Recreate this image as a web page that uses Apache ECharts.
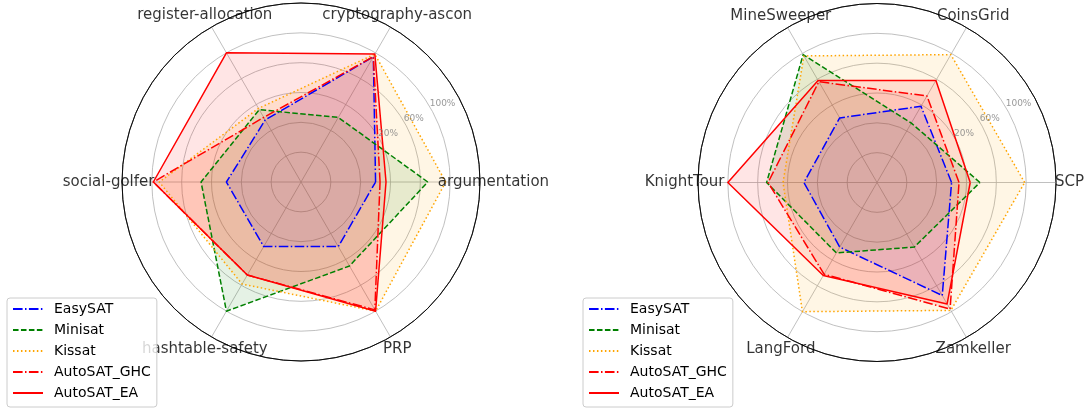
<!DOCTYPE html>
<html><head><meta charset="utf-8">
<script src="https://cdn.jsdelivr.net/npm/echarts@6/dist/echarts.min.js"></script>
<style>html,body{margin:0;padding:0;background:#fff}#c{width:1086px;height:408px}</style>
</head><body><div id="c"></div>
<script>
// ---------- data (radial units: 1.0 = the "100%" ring, outer circle = 1.2) ----------
const solvers = ['EasySAT', 'Minisat', 'Kissat', 'AutoSAT_GHC', 'AutoSAT_EA'];

const leftCategories = ['argumentation', 'cryptography-ascon', 'register-allocation', 'social-golfer', 'hashtable-safety', 'PRP'];
const leftEasySAT    = [0.50, 0.97, 0.48, 0.50, 0.50, 0.50];
const leftMinisat    = [0.85, 0.50, 0.56, 0.67, 1.00, 0.65];
const leftKissat     = [0.97, 0.99, 0.57, 0.95, 0.79, 1.00];
const leftGHC        = [0.53, 0.97, 0.50, 0.99, 0.72, 0.99];
const leftEA         = [0.57, 0.99, 1.00, 0.99, 0.72, 1.00];

const rightCategories = ['SCP', 'CoinsGrid', 'MineSweeper', 'KnightTour', 'LangFord', 'Zamkeller'];
const rightEasySAT    = [0.50, 0.59, 0.50, 0.49, 0.50, 0.875];
const rightMinisat    = [0.69, 0.46, 0.99, 0.74, 0.545, 0.50];
const rightKissat     = [0.99, 0.99, 0.98, 0.63, 1.00, 0.99];
const rightGHC        = [0.55, 0.67, 0.78, 0.73, 0.71, 0.98];
const rightEA         = [0.625, 0.79, 0.79, 1.00, 0.72, 0.94];

const radialTickValues = [0.6, 0.8, 1.0];
const radialTickLabels = ['20%', '60%', '100%'];

// ---------- styles ----------
const FONT = 'DejaVu Sans';
const styleOf = {
  EasySAT:     { color: '#0000ff', type: [9.6, 2.4, 1.5, 2.4] },
  Minisat:     { color: '#008000', type: [5.55, 2.4] },
  Kissat:      { color: '#ffa500', type: [1.5, 2.475] },
  AutoSAT_GHC: { color: '#ff0000', type: [9.6, 2.4, 1.5, 2.4] },
  AutoSAT_EA:  { color: '#ff0000', type: 'solid' }
};

function closedPoints(vals) {
  const step = 360 / vals.length;
  const pts = vals.map((v, i) => [v, i * step]);
  pts.push([vals[0], 360]);
  return pts;
}

// fills first (below), then outlines (above), as in the reference
function radarSeries(polarIndex, valuesList) {
  const fills = solvers.map((name, k) => ({
    type: 'line', name: name + ' (fill)', coordinateSystem: 'polar', polarIndex: polarIndex,
    data: closedPoints(valuesList[k]),
    symbol: 'none', showSymbol: false, silent: true, clip: false,
    lineStyle: { width: 0, opacity: 0 },
    areaStyle: { color: styleOf[name].color, opacity: 0.1 },
    z: 1
  }));
  const lines = solvers.map((name, k) => ({
    type: 'line', name: name, coordinateSystem: 'polar', polarIndex: polarIndex,
    data: closedPoints(valuesList[k]),
    symbol: 'none', showSymbol: false, silent: true, clip: false,
    lineStyle: { color: styleOf[name].color, width: 1.5, type: styleOf[name].type, cap: 'butt', join: 'round' },
    itemStyle: { color: styleOf[name].color },
    z: 2
  }));
  return fills.concat(lines);
}

function categoryLabelSeries(polarIndex, cats) {
  const step = 360 / cats.length;
  return {
    type: 'scatter', coordinateSystem: 'polar', polarIndex: polarIndex, silent: true, clip: false,
    data: cats.map((c, i) => ({ value: [1.29, i * step], name: c })),
    symbolSize: 1, itemStyle: { color: 'rgba(0,0,0,0)' },
    label: { show: true, position: 'inside', formatter: '{b}', fontFamily: FONT, fontSize: 15,
             color: '#000', textBorderWidth: 0 },
    z: 3
  };
}

function radialLabelSeries(polarIndex) {
  return {
    type: 'scatter', coordinateSystem: 'polar', polarIndex: polarIndex, silent: true, clip: false,
    data: radialTickValues.map((v, i) => ({ value: [v, 30], name: radialTickLabels[i] })),
    symbolSize: 1, itemStyle: { color: 'rgba(0,0,0,0)' },
    label: { show: true, position: 'insideBottomLeft', distance: 0, formatter: '{b}', fontFamily: FONT,
             fontSize: 9, color: '#808080', textBorderWidth: 0 },
    z: 3
  };
}

function angleAxis(polarIndex) {
  return {
    polarIndex: polarIndex, type: 'value', min: 0, max: 360, interval: 60, startAngle: 0, clockwise: false,
    axisLine: { show: true, lineStyle: { color: '#000', width: 0.8 } },
    axisTick: { show: false }, axisLabel: { show: false },
    splitLine: { show: true, lineStyle: { color: '#b0b0b0', width: 0.8 } }
  };
}
function radiusAxis(polarIndex) {
  return {
    polarIndex: polarIndex, type: 'value', min: 0, max: 1.2, interval: 0.2,
    axisLine: { show: false }, axisTick: { show: false }, axisLabel: { show: false },
    splitLine: { show: true, lineStyle: { width: 0.8,
      color: ['#b0b0b0', '#b0b0b0', '#b0b0b0', '#b0b0b0', '#b0b0b0', '#b0b0b0', '#000000'] } }
  };
}
function legendAt(left) {
  return {
    data: solvers, orient: 'vertical', left: left, top: 298,
    itemWidth: 30, itemHeight: 14, itemGap: 7, padding: [4, 6, 7, 5],
    backgroundColor: 'rgba(255,255,255,0.8)', borderColor: '#cccccc', borderWidth: 1, borderRadius: 3,
    selectedMode: false,
    itemStyle: { color: 'rgba(0,0,0,0)', borderWidth: 0, opacity: 0 },
    textStyle: { fontFamily: FONT, fontSize: 14, color: '#000', padding: [0, 0, 0, 6] }
  };
}

const chart = echarts.init(document.getElementById('c'), null, { renderer: 'canvas' });
chart.setOption({
  animation: false,
  backgroundColor: '#ffffff',
  textStyle: { fontFamily: FONT },
  polar: [
    { center: [301, 182], radius: 179 },
    { center: [877, 182.5], radius: 179 }
  ],
  angleAxis: [angleAxis(0), angleAxis(1)],
  radiusAxis: [radiusAxis(0), radiusAxis(1)],
  legend: [legendAt(7), legendAt(583)],
  series: [].concat(
    radarSeries(0, [leftEasySAT, leftMinisat, leftKissat, leftGHC, leftEA]),
    radarSeries(1, [rightEasySAT, rightMinisat, rightKissat, rightGHC, rightEA]),
    [categoryLabelSeries(0, leftCategories), categoryLabelSeries(1, rightCategories),
     radialLabelSeries(0), radialLabelSeries(1)]
  )
});
</script>
</body></html>
